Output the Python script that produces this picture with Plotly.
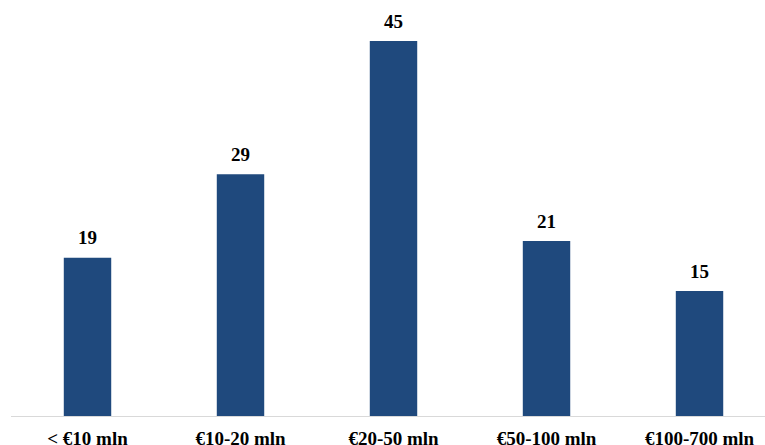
import plotly.graph_objects as go

categories = ["< €10 mln", "€10-20 mln", "€20-50 mln", "€50-100 mln", "€100-700 mln"]
values = [19, 29, 45, 21, 15]

FONT = "Liberation Serif"
xs = list(range(len(categories)))

fig = go.Figure(go.Bar(
    x=xs,
    y=values,
    marker_color="#1F497D",
    marker_line_width=0,
    width=0.31,
    hoverinfo="skip",
))

for x, v in zip(xs, values):
    fig.add_annotation(
        x=x, y=v, text="<b>%d</b>" % v, showarrow=False,
        xanchor="center", yanchor="middle", yshift=20,
        font=dict(family=FONT, size=19, color="#000000"),
    )

fig.update_layout(
    width=765, height=445,
    margin=dict(l=11, r=0, t=10, b=29),
    plot_bgcolor="white", paper_bgcolor="white",
    showlegend=False,
    font=dict(family=FONT, size=19, color="#000000"),
    xaxis=dict(
        range=[-0.5, 4.428],
        tickmode="array",
        tickvals=xs,
        ticktext=["<b>%s</b>" % c for c in categories],
        showline=True, linecolor="#D9D9D9", linewidth=1,
        showgrid=False, zeroline=False,
        ticks="outside", ticklen=5, tickcolor="rgba(0,0,0,0)",
        tickfont=dict(family=FONT, size=19, color="#000000"),
        automargin=False,
    ),
    yaxis=dict(range=[0, 48.72], visible=False, showgrid=False, zeroline=False),
)

fig.write_html(
    "out.html",
    config={"displayModeBar": False},
    post_script="document.body.style.margin='0';document.body.style.overflow='hidden';",
)
